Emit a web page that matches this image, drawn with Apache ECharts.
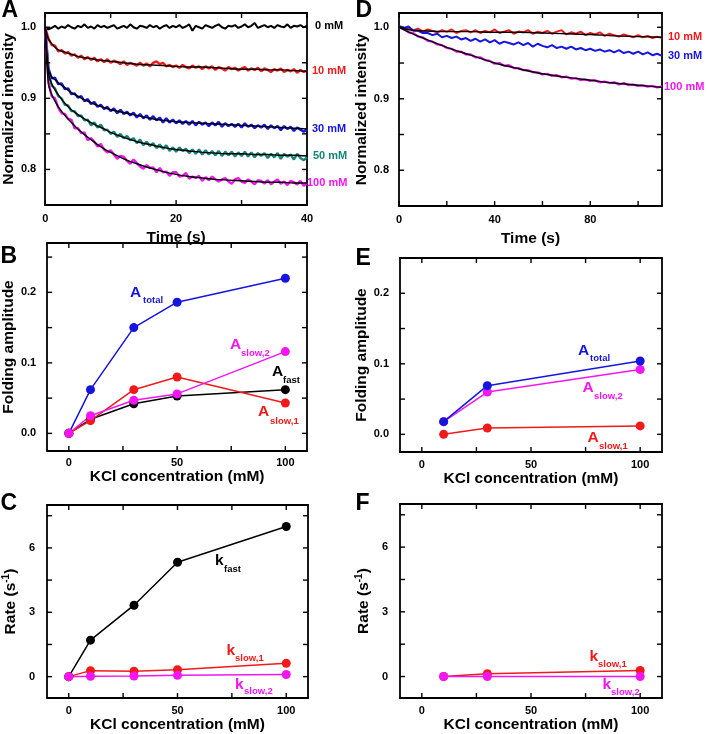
<!DOCTYPE html>
<html><head><meta charset="utf-8">
<script src="https://cdn.jsdelivr.net/npm/echarts@6/dist/echarts.min.js"></script>
<style>html,body{margin:0;padding:0;background:#fff}#c{width:708px;height:734px}</style>
</head><body><div id="c"></div>
<script>
// ---------- Panel A: time traces (s) ----------
const timeA = [0,0.5,1,1.5,2,2.5,3,3.5,4,4.5,5,5.5,6,6.5,7,7.5,8,8.5,9,9.5,10,10.5,11,11.5,12,12.5,13,13.5,14,14.5,15,15.5,16,16.5,17,17.5,18,18.5,19,19.5,20,20.5,21,21.5,22,22.5,23,23.5,24,24.5,25,25.5,26,26.5,27,27.5,28,28.5,29,29.5,30,30.5,31,31.5,32,32.5,33,33.5,34,34.5,35,35.5,36,36.5,37,37.5,38,38.5,39,39.5,40];
const traceA0 = [1.000,0.997,0.999,1.002,0.998,1.001,0.999,1.003,1.000,0.998,
 1.002,1.000,1.004,0.999,1.001,0.998,1.003,1.000,1.002,0.999,
 1.001,1.003,0.998,1.000,1.002,0.999,1.004,1.000,0.998,1.002,
 1.001,0.999,1.003,1.000,1.002,0.998,1.001,1.003,0.999,1.002,
 1.000,1.003,0.999,1.001,1.004,0.995,1.002,1.000,0.998,1.003,
 1.001,0.999,1.002,1.004,1.000,0.998,1.002,1.001,1.003,0.999,
 1.001,1.004,1.000,1.002,1.006,0.999,1.001,1.003,1.000,1.002,
 0.999,1.003,1.001,1.000,1.004,0.999,1.002,1.001,1.003,1.000,1.002];
const traceA10 = [1.000,0.984,0.975,0.974,0.966,0.968,0.963,0.965,0.960,0.962,
 0.957,0.960,0.955,0.958,0.954,0.957,0.952,0.955,0.951,0.955,
 0.950,0.953,0.951,0.948,0.952,0.947,0.950,0.948,0.946,0.950,
 0.946,0.949,0.945,0.950,0.952,0.948,0.950,0.945,0.947,0.944,
 0.946,0.943,0.947,0.944,0.942,0.946,0.943,0.945,0.941,0.945,
 0.942,0.945,0.940,0.944,0.942,0.939,0.944,0.941,0.943,0.939,
 0.942,0.944,0.939,0.942,0.940,0.943,0.938,0.942,0.940,0.937,
 0.941,0.939,0.942,0.937,0.940,0.938,0.941,0.936,0.940,0.937,0.939];
const traceA30 = [1.000,0.942,0.928,0.929,0.920,0.921,0.913,0.914,0.906,0.907,
 0.901,0.903,0.896,0.899,0.892,0.895,0.888,0.891,0.885,0.888,
 0.882,0.886,0.879,0.884,0.878,0.881,0.876,0.880,0.873,0.878,
 0.872,0.876,0.870,0.875,0.869,0.873,0.866,0.872,0.866,0.870,
 0.865,0.869,0.864,0.868,0.863,0.868,0.862,0.867,0.863,0.866,
 0.861,0.866,0.862,0.867,0.860,0.865,0.861,0.864,0.860,0.864,
 0.859,0.865,0.860,0.863,0.858,0.862,0.859,0.863,0.857,0.862,
 0.858,0.861,0.855,0.861,0.857,0.860,0.854,0.859,0.856,0.853,0.857];
const traceA50 = [1.000,0.936,0.918,0.914,0.903,0.900,0.891,0.890,0.882,0.882,
 0.875,0.876,0.869,0.870,0.862,0.866,0.859,0.863,0.855,0.856,
 0.850,0.853,0.846,0.850,0.844,0.847,0.841,0.844,0.837,0.842,
 0.834,0.839,0.833,0.837,0.830,0.835,0.829,0.834,0.826,0.831,
 0.825,0.831,0.826,0.829,0.823,0.828,0.822,0.828,0.821,0.827,
 0.821,0.826,0.820,0.826,0.819,0.825,0.820,0.825,0.818,0.824,
 0.819,0.825,0.818,0.824,0.817,0.823,0.819,0.823,0.816,0.822,
 0.817,0.823,0.815,0.822,0.818,0.821,0.814,0.822,0.816,0.813,0.817];
const traceA100 = [1.000,0.923,0.903,0.900,0.887,0.879,0.878,0.871,0.870,0.858,
 0.858,0.851,0.852,0.841,0.844,0.839,0.832,0.836,0.828,0.824,
 0.827,0.821,0.815,0.819,0.818,0.812,0.808,0.814,0.809,0.804,
 0.801,0.806,0.802,0.803,0.796,0.802,0.796,0.797,0.791,0.796,
 0.796,0.790,0.791,0.795,0.787,0.790,0.788,0.791,0.784,0.789,
 0.785,0.790,0.786,0.783,0.786,0.788,0.783,0.780,0.786,0.788,
 0.783,0.781,0.786,0.783,0.779,0.785,0.784,0.780,0.785,0.779,
 0.783,0.786,0.780,0.783,0.778,0.784,0.782,0.779,0.784,0.777,0.781];
const fitTimeA = [0,0.5,1,1.5,2,3,4,5,6,7,8,9,10,12,14,16,18,20,22,24,26,28,30,32,34,36,38,40];
const fitA10  = [1.0,0.983,0.977,0.972,0.968,0.965,0.962,0.959,0.957,0.956,0.954,0.953,0.952,0.950,0.948,0.947,0.946,0.945,0.944,0.944,0.943,0.942,0.941,0.941,0.940,0.940,0.939,0.938];
const fitA30  = [1.0,0.940,0.930,0.926,0.922,0.915,0.908,0.903,0.898,0.894,0.890,0.887,0.884,0.880,0.876,0.872,0.869,0.867,0.866,0.865,0.864,0.863,0.862,0.861,0.860,0.859,0.858,0.857];
const fitA50  = [1.0,0.935,0.920,0.912,0.905,0.893,0.884,0.877,0.871,0.866,0.861,0.857,0.852,0.845,0.839,0.835,0.831,0.828,0.826,0.824,0.823,0.822,0.822,0.821,0.821,0.820,0.820,0.819];
const fitA100 = [1.0,0.920,0.905,0.896,0.888,0.876,0.866,0.857,0.849,0.842,0.835,0.829,0.824,0.815,0.808,0.802,0.797,0.793,0.790,0.788,0.786,0.785,0.784,0.783,0.782,0.782,0.781,0.781];

// ---------- Panel D: time traces (s) ----------
const timeD = [0,2,4,6,8,10,12,14,16,18,20,22,24,26,28,30,32,34,36,38,40,42,44,46,48,50,52,54,56,58,60,62,64,66,68,70,72,74,76,78,80,82,84,86,88,90,92,94,96,98,100,102,104,106,108,110];
const traceD10 = [1.000,0.998,0.999,0.996,0.998,0.994,0.997,0.995,0.993,0.996,
 0.994,0.997,0.992,0.995,0.996,0.993,0.996,0.992,0.995,0.993,
 0.997,0.992,0.994,0.996,0.991,0.994,0.993,0.996,0.991,0.994,
 0.992,0.995,0.991,0.994,0.996,0.990,0.993,0.991,0.994,0.989,
 0.992,0.990,0.993,0.988,0.991,0.989,0.987,0.990,0.988,0.986,
 0.989,0.986,0.988,0.985,0.987,0.985];
const traceD30 = [1.002,0.999,1.001,0.995,0.995,0.992,0.992,0.989,0.991,0.986,
 0.988,0.985,0.987,0.983,0.985,0.981,0.984,0.980,0.983,0.979,
 0.982,0.977,0.980,0.978,0.976,0.979,0.975,0.978,0.973,0.977,
 0.974,0.972,0.975,0.971,0.973,0.970,0.973,0.969,0.971,0.968,
 0.970,0.967,0.969,0.966,0.968,0.965,0.968,0.964,0.966,0.963,
 0.966,0.962,0.965,0.961,0.963,0.960];
const traceD100 = [1.000,0.998,0.993,0.992,0.987,0.986,0.981,0.980,0.976,0.975,
 0.971,0.970,0.966,0.966,0.962,0.962,0.958,0.958,0.954,0.953,
 0.949,0.950,0.946,0.947,0.943,0.943,0.940,0.940,0.937,0.937,
 0.934,0.935,0.932,0.933,0.930,0.931,0.928,0.929,0.926,0.927,
 0.925,0.926,0.923,0.924,0.922,0.923,0.920,0.922,0.919,0.920,
 0.918,0.919,0.917,0.918,0.916,0.917];
const fitTimeD = [0,5,10,20,30,40,50,60,70,80,90,100,110];
const fitD10  = [1.0,0.996,0.995,0.994,0.994,0.993,0.993,0.992,0.991,0.990,0.988,0.987,0.986];
const fitD100 = [1.0,0.992,0.985,0.972,0.961,0.950,0.942,0.935,0.930,0.926,0.922,0.919,0.916];

// ---------- Panels B, C (KCl 0-100 mM) ----------
const kcl = [0,10,30,50,100];
const aTotal = [0,0.062,0.150,0.186,0.220];
const aFast  = [0,0.020,0.042,0.053,0.062];
const aSlow1 = [0,0.018,0.062,0.080,0.043];
const aSlow2 = [0,0.025,0.047,0.056,0.116];
const kFast  = [0,1.70,3.33,5.33,7.00];
const kSlow1 = [0,0.28,0.25,0.32,0.62];
const kSlow2 = [0,0.02,0.03,0.06,0.10];

// ---------- Panels E, F (KCl 10-100 mM) ----------
const kclE = [10,30,100];
const eTotal = [0.018,0.069,0.104];
const eSlow1 = [0,0.009,0.012];
const eSlow2 = [0.018,0.060,0.092];
const fSlow1 = [0,0.13,0.28];
const fSlow2 = [0,0,0];

// tick values
const ticksTimeA = [0,10,20,30,40], labelsTimeA = [0,20,40];
const ticksTimeD = [0,20,40,60,80,100], labelsTimeD = [0,40,80];
const ticksInt = [0.8,0.85,0.9,0.95,1.0], labelsInt = [0.8,0.9,1.0];
const ticksKcl = [0,25,50,75,100], labelsKcl = [0,50,100];
const ticksAmp = [0,0.05,0.1,0.15,0.2,0.25], labelsAmp = [0,0.1,0.2];
const ticksRate = [0,1.5,3,4.5,6,7.5], labelsRate = [0,3,6];

const FONT = '"Liberation Sans", Arial, Helvetica, sans-serif';
const BLACK = '#000000', RED = '#f01a1a', BLUE = '#1515e0', TEAL = '#17847a', MAG = '#f415f4';

const grids = [
  {left:43, top:13, width:264, height:192},   // A
  {left:399, top:13, width:263, height:193},  // D
  {left:45, top:243, width:262, height:208},  // B
  {left:400, top:258, width:262, height:194}, // E
  {left:45, top:505, width:263, height:194},  // C
  {left:400, top:504, width:262, height:195}  // F
];
const xAxes = [], yAxes = [];
const series = [];
function axes(gi, isX, c) {
  const base = {
    gridIndex: gi, type: 'value', min: c.min, max: c.max,
    splitLine: {show: false},
    axisLine: {show: true, onZero: false, lineStyle: {color: BLACK, width: 1.8}},
    axisTick: {show: false}
  };
  const main = Object.assign({}, base, {
    position: isX ? 'bottom' : 'left',
    axisLabel: {show: true, customValues: c.labels, formatter: c.fmt, color: BLACK,
      fontFamily: FONT, fontWeight: 'bold', fontSize: 11, margin: c.margin},
    name: c.name, nameLocation: 'middle', nameGap: c.gap, nameRotate: isX ? 0 : 90,
    nameTextStyle: {color: BLACK, fontFamily: FONT, fontWeight: 'bold', fontSize: 15.5,
      rich: {sup: {fontFamily: FONT, fontWeight: 'bold', fontSize: 10, verticalAlign: 'top', color: BLACK, padding: [0,0,9,0]}}}
  });
  const mirror = Object.assign({}, base, {position: isX ? 'top' : 'right', axisLabel: {show: false}});
  (isX ? xAxes : yAxes).push(main, mirror);
  // inward ticks on both opposite sides, placed through the axis scale
  const data = c.ticks.map(v => isX ? [v, c.other] : [c.other, v]);
  series.push({
    type: 'custom', coordinateSystem: 'cartesian2d', xAxisIndex: 2*gi, yAxisIndex: 2*gi,
    data: data, silent: true, z: 6, clip: false,
    renderItem: function (params, api) {
      const p = api.coord([api.value(0), api.value(1)]);
      const cs = params.coordSys;
      const st = {stroke: BLACK, lineWidth: 1.4};
      let l1, l2;
      if (isX) {
        const b = cs.y + cs.height, t = cs.y;
        l1 = {x1: p[0], y1: b, x2: p[0], y2: b - 5};
        l2 = {x1: p[0], y1: t, x2: p[0], y2: t + 5};
      } else {
        const l = cs.x, r = cs.x + cs.width;
        l1 = {x1: l, y1: p[1], x2: l + 5, y2: p[1]};
        l2 = {x1: r, y1: p[1], x2: r - 5, y2: p[1]};
      }
      return {type: 'group', children: [
        {type: 'line', shape: l1, style: st}, {type: 'line', shape: l2, style: st}]};
    }
  });
}
const f1 = v => v.toFixed(1), f0 = v => String(v);
// A
axes(0, true,  {min:0, max:40, other:0.9, ticks:ticksTimeA, labels:labelsTimeA, fmt:f0, margin:8, name:'Time (s)', gap:25});
axes(0, false, {min:0.75, max:1.02, other:20, ticks:ticksInt, labels:labelsInt, fmt:f1, margin:9, name:'Normalized intensity', gap:27});
// D
axes(1, true,  {min:0, max:110, other:0.9, ticks:ticksTimeD, labels:labelsTimeD, fmt:f0, margin:8, name:'Time (s)', gap:25});
axes(1, false, {min:0.75, max:1.02, other:50, ticks:ticksInt, labels:labelsInt, fmt:f1, margin:10, name:'Normalized intensity', gap:27});
// B
axes(2, true,  {min:-10, max:110, other:0.1, ticks:ticksKcl, labels:labelsKcl, fmt:f0, margin:6, name:'KCl concentration (mM)', gap:18});
axes(2, false, {min:-0.025, max:0.27, other:50, ticks:ticksAmp, labels:labelsAmp, fmt:f1, margin:11, name:'Folding amplitude', gap:29});
// E
axes(3, true,  {min:-10, max:110, other:0.1, ticks:ticksKcl, labels:labelsKcl, fmt:f0, margin:7, name:'KCl concentration (mM)', gap:18});
axes(3, false, {min:-0.025, max:0.25, other:50, ticks:ticksAmp, labels:labelsAmp, fmt:f1, margin:11, name:'Folding amplitude', gap:29});
// C
axes(4, true,  {min:-10, max:110, other:3, ticks:ticksKcl, labels:labelsKcl, fmt:f0, margin:7, name:'KCl concentration (mM)', gap:17});
axes(4, false, {min:-1, max:8, other:50, ticks:ticksRate, labels:labelsRate, fmt:f0, margin:12, name:'Rate (s{sup|-1})', gap:27});
// F
axes(5, true,  {min:-10, max:110, other:3, ticks:ticksKcl, labels:labelsKcl, fmt:f0, margin:7, name:'KCl concentration (mM)', gap:17});
axes(5, false, {min:-1, max:8, other:50, ticks:ticksRate, labels:labelsRate, fmt:f0, margin:12, name:'Rate (s{sup|-1})', gap:27});

const zip = (xs, ys) => xs.map((x, i) => [x, ys[i]]);
function trace(gi, xs, ys, color, w, label, dist) {
  const s = {type:'line', xAxisIndex:2*gi, yAxisIndex:2*gi, data:zip(xs, ys), showSymbol:false, symbol:'none',
    lineStyle:{color:color, width:w}, itemStyle:{color:color}, z:2, silent:true};
  if (label) s.endLabel = {show:true, formatter:label, color:color, fontFamily:FONT, fontWeight:'bold', fontSize:11, distance:dist};
  series.push(s);
}
function fit(gi, xs, ys, labelColor, label, dist) {
  const s = {type:'line', xAxisIndex:2*gi, yAxisIndex:2*gi, data:zip(xs, ys), showSymbol:false, symbol:'none', smooth:0.3,
    lineStyle:{color:BLACK, width:1.4}, itemStyle:{color:BLACK}, z:3, silent:true};
  if (label) s.endLabel = {show:true, formatter:label, color:labelColor, fontFamily:FONT, fontWeight:'bold', fontSize:11, distance:dist};
  series.push(s);
}
function pts(gi, xs, ys, color) {
  series.push({type:'line', xAxisIndex:2*gi, yAxisIndex:2*gi, data:zip(xs, ys), symbol:'circle', symbolSize:9,
    showSymbol:true, lineStyle:{color:color, width:1.5}, itemStyle:{color:color}, z:3, silent:true});
}
// A
trace(0, timeA, traceA0, BLACK, 2.0, '0 mM', 8);
trace(0, timeA, traceA10, RED, 2.4);
trace(0, timeA, traceA30, BLUE, 2.4);
trace(0, timeA, traceA50, TEAL, 2.4);
trace(0, timeA, traceA100, MAG, 2.4);
fit(0, fitTimeA, fitA10, RED, '10 mM', 5);
fit(0, fitTimeA, fitA30, BLUE, '30 mM', 5);
fit(0, fitTimeA, fitA50, TEAL, '50 mM', 6);
fit(0, fitTimeA, fitA100, MAG, '100 mM', 0);
// D
trace(1, timeD, traceD10, RED, 2.0);
trace(1, timeD, traceD30, BLUE, 2.0, '30 mM', 6);
trace(1, timeD, traceD100, MAG, 2.2);
fit(1, fitTimeD, fitD10, RED, '10 mM', 6);
fit(1, fitTimeD, fitD100, MAG, '100 mM', 2);
// B
pts(2, kcl, aTotal, BLUE);
pts(2, kcl, aFast, BLACK);
pts(2, kcl, aSlow1, RED);
pts(2, kcl, aSlow2, MAG);
// E
pts(3, kclE, eSlow1, RED);
pts(3, kclE, eSlow2, MAG);
pts(3, kclE, eTotal, BLUE);
// C
pts(4, kcl, kFast, BLACK);
pts(4, kcl, kSlow1, RED);
pts(4, kcl, kSlow2, MAG);
// F
pts(5, kclE, fSlow1, RED);
pts(5, kclE, fSlow2, MAG);

const graphics = [];
function txt(x, y, text, size, color) {
  graphics.push({type:'text', x:x, y:y, silent:true,
    style:{text:text, fill:color, font:'bold ' + size + 'px ' + FONT, textAlign:'left', textVerticalAlign:'middle'}});
}
// panel letters
txt(1.5, 10.5, 'A', 23, BLACK); txt(355.5, 10.5, 'D', 23, BLACK);
txt(0.5, 257, 'B', 23, BLACK);  txt(355.5, 258.5, 'E', 23, BLACK);
txt(0.5, 503.5, 'C', 23, BLACK); txt(355.5, 503.5, 'F', 23, BLACK);
// subscripted labels
function lab(x, y, main, xs, ys, sub, color) { txt(x, y, main, 15.5, color); txt(xs, ys, sub, 9.5, color); }
lab(130, 293, 'A', 143, 300.5, 'total', BLUE);
lab(230, 344.5, 'A', 241, 353.5, 'slow,2', MAG);
lab(272, 371.5, 'A', 283, 380, 'fast', BLACK);
lab(258, 411.5, 'A', 270, 421, 'slow,1', RED);
lab(578, 351, 'A', 590, 358, 'total', BLUE);
lab(582.5, 388, 'A', 594, 396.5, 'slow,2', MAG);
lab(587.5, 438, 'A', 599, 446.5, 'slow,1', RED);
lab(215, 561, 'k', 224, 569, 'fast', BLACK);
lab(226.5, 650.5, 'k', 235, 658.5, 'slow,1', RED);
lab(235, 684.5, 'k', 244, 691.5, 'slow,2', MAG);
lab(589.5, 656.5, 'k', 598, 664.5, 'slow,1', RED);
lab(602.5, 684.5, 'k', 611, 692.5, 'slow,2', MAG);

const chart = echarts.init(document.getElementById('c'), null, {renderer:'canvas'});
chart.setOption({
  animation: false,
  backgroundColor: '#ffffff',
  grid: grids.map(g => Object.assign({containLabel:false, show:false}, g)),
  xAxis: xAxes, yAxis: yAxes,
  series: series,
  graphic: graphics
});
</script></body></html>
